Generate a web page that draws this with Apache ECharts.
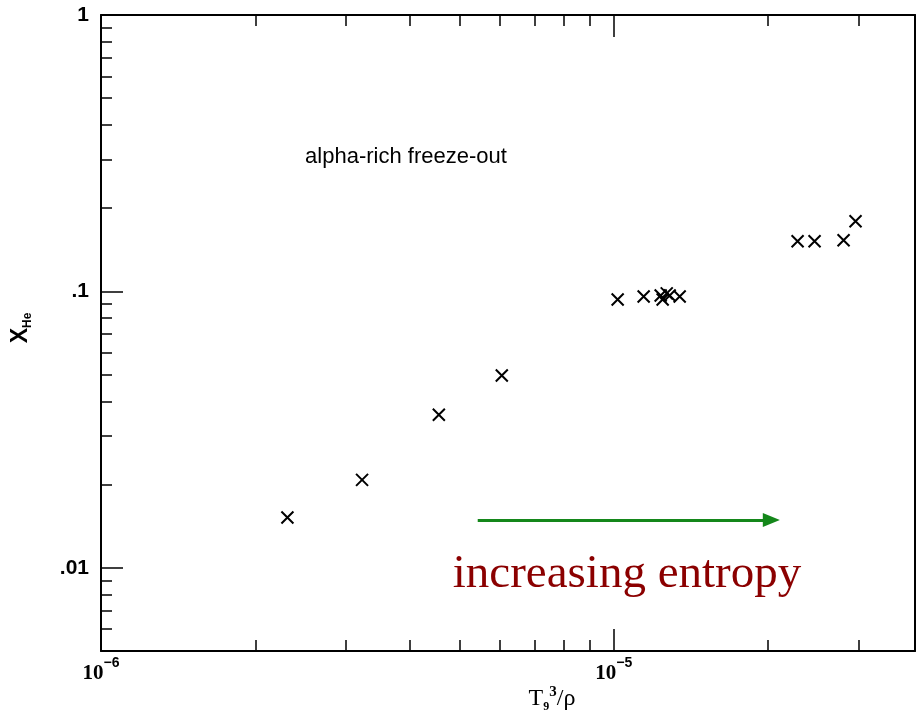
<!DOCTYPE html>
<html>
<head>
<meta charset="utf-8">
<script src="https://cdn.jsdelivr.net/npm/echarts@6/dist/echarts.min.js"></script>
<style>html,body{margin:0;padding:0;background:#fff;}#c{width:916px;height:721px;}</style>
</head>
<body>
<div id="c"></div>
<script>
// Data
const xValues = [2.31e-6, 3.23e-6, 4.56e-6, 6.05e-6, 1.018e-5, 1.144e-5, 1.235e-5, 1.246e-5, 1.269e-5, 1.286e-5, 1.345e-5, 2.284e-5, 2.465e-5, 2.808e-5, 2.963e-5];
const yValues = [0.0152, 0.0208, 0.0358, 0.0496, 0.0935, 0.0959, 0.0967, 0.0935, 0.0984, 0.0967, 0.0959, 0.1518, 0.1518, 0.1531, 0.1793];
const xMajorTicks = [1e-6, 1e-5];
const xMinorTicks = [2e-6, 3e-6, 4e-6, 5e-6, 6e-6, 7e-6, 8e-6, 9e-6, 2e-5, 3e-5];
const yMajorTicks = [0.01, 0.1, 1];
const yMinorTicks = [0.006, 0.007, 0.008, 0.009, 0.02, 0.03, 0.04, 0.05, 0.06, 0.07, 0.08, 0.09, 0.2, 0.3, 0.4, 0.5, 0.6, 0.7, 0.8, 0.9];
const yTickLabels = ['.01', '.1', '1'];
const xRange = [1e-6, 3.87e-5];
const yRange = [0.005, 1];
const arrowStart = [5.43e-6, 0.0149];
const arrowEnd = [2.03e-5, 0.0149];

const chart = echarts.init(document.getElementById('c'));
const line = {show: true, lineStyle: {color: '#000', width: 2}};
const noLine = {show: false};
function xAx(pos, ticks, len, labels, showLine) {
  return {
    type: 'log', logBase: 10, min: xRange[0], max: xRange[1], position: pos,
    axisLine: showLine ? line : noLine,
    axisTick: {show: true, inside: true, length: len, customValues: ticks, lineStyle: {color: '#000', width: 1.5}},
    axisLabel: labels ? {
      show: true, customValues: ticks, margin: 5,
      formatter: function (v) { const e = Math.round(Math.log10(v)); return '{b|10}{s|' + (e < 0 ? '\u2212' + (-e) : e) + '}'; },
      rich: {
        b: {fontSize: 21, fontFamily: 'Liberation Serif', fontWeight: 'bold', color: '#000', lineHeight: 28, verticalAlign: 'bottom'},
        s: {fontSize: 14, fontFamily: 'Liberation Sans', fontWeight: 'bold', color: '#000', verticalAlign: 'top'}
      }
    } : {show: false},
    splitLine: {show: false}, minorTick: {show: false}
  };
}
function yAx(pos, ticks, len, labels, showLine) {
  return {
    type: 'log', logBase: 10, min: yRange[0], max: yRange[1], position: pos,
    axisLine: showLine ? line : noLine,
    axisTick: ticks ? {show: true, inside: true, length: len, customValues: ticks, lineStyle: {color: '#000', width: 1.5}} : {show: false},
    axisLabel: labels ? {
      show: true, customValues: ticks, margin: 12,
      formatter: function (v) { const k = Math.round(Math.log10(v)); return yTickLabels[k + 2]; },
      fontSize: 21, fontFamily: 'Liberation Sans', fontWeight: 'bold', color: '#000'
    } : {show: false},
    splitLine: {show: false}, minorTick: {show: false}
  };
}

chart.setOption({
  animation: false,
  backgroundColor: '#fff',
  grid: {left: 101, right: 1, top: 15, bottom: 70, containLabel: false},
  xAxis: [
    xAx('bottom', xMajorTicks, 22, true, true),
    xAx('bottom', xMinorTicks, 11, false, false),
    xAx('top', xMajorTicks, 22, false, true),
    xAx('top', xMinorTicks, 11, false, false)
  ],
  yAxis: [
    yAx('left', yMajorTicks, 22, true, true),
    yAx('left', yMinorTicks, 11, false, false),
    yAx('right', null, 0, false, true)
  ],
  series: [{
    type: 'scatter', xAxisIndex: 0, yAxisIndex: 0,
    data: xValues.map((x, i) => [x, yValues[i]]),
    symbol: 'path://M0,0L10,10M10,0L0,10',
    symbolSize: 12,
    itemStyle: {color: '#000', borderColor: '#000', borderWidth: 2, opacity: 1},
    emphasis: {disabled: true},
    markLine: {
      silent: true, animation: false,
      symbol: ['none', 'triangle'], symbolSize: [14, 17],
      label: {show: false},
      lineStyle: {color: '#14871a', width: 3, type: 'solid', opacity: 1},
      itemStyle: {color: '#14871a'},
      data: [[{coord: arrowStart}, {coord: arrowEnd}]]
    }
  }],
  graphic: [
    {type: 'text', x: 406, y: 157, style: {text: 'alpha-rich freeze-out', font: '22px "Liberation Sans"', fill: '#000', align: 'center', verticalAlign: 'middle'}},
    {type: 'text', x: 627, y: 575, style: {text: 'increasing entropy', font: '47px "Liberation Serif"', fill: '#8b0000', align: 'center', verticalAlign: 'middle'}},
    {type: 'text', x: 552, y: 699, style: {
      text: '{t|T}{d|9}{u|3}{t|/\u03c1}', align: 'center', verticalAlign: 'middle',
      rich: {
        t: {fontSize: 24, fontFamily: 'Liberation Serif', color: '#000', lineHeight: 28, verticalAlign: 'middle'},
        d: {fontSize: 12, fontFamily: 'Liberation Serif', fontWeight: 'bold', color: '#000', verticalAlign: 'bottom'},
        u: {fontSize: 15, fontFamily: 'Liberation Serif', fontWeight: 'bold', color: '#000', verticalAlign: 'top'}
      }}},
    {type: 'text', x: 21, y: 328, rotation: Math.PI / 2, style: {
      text: '{x|X}{h|He}', align: 'center', verticalAlign: 'middle',
      rich: {
        x: {fontSize: 23, fontFamily: 'Liberation Sans', fontWeight: 'bold', color: '#000', lineHeight: 26, verticalAlign: 'middle'},
        h: {fontSize: 12, fontFamily: 'Liberation Sans', fontWeight: 'bold', color: '#000', verticalAlign: 'bottom'}
      }}}
  ]
});
</script>
</body>
</html>
